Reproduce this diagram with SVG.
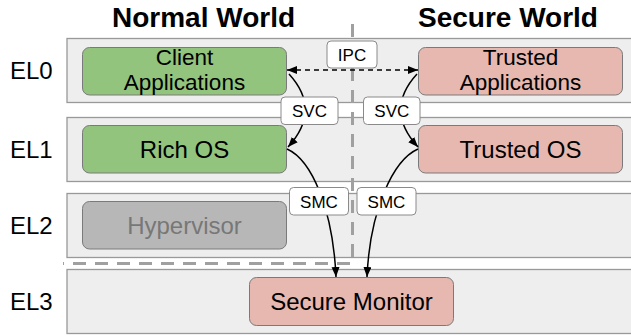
<svg xmlns="http://www.w3.org/2000/svg" width="631" height="336" viewBox="0 0 631 336">
<style>
text{font-family:"Liberation Sans",Arial,sans-serif;fill:#000}
.title{font-size:28px;font-weight:bold;text-anchor:middle}
.el{font-size:24px}
.band{fill:#eeeeee;stroke:#999999;stroke-width:1.3}
.box{stroke:#7a7a7a;stroke-width:1}
.green{fill:#93c47d}
.pink{fill:#e6b8af}
.grey{fill:#b7b7b7}
.bt{font-size:24px;text-anchor:middle}
.bt2{font-size:22.5px;text-anchor:middle}
.lab rect{fill:#ffffff;stroke:#8a8a8a;stroke-width:1}
.lab text{font-size:17px;text-anchor:middle}
.sep{fill:none;stroke:#a0a0a0;stroke-width:3;stroke-dasharray:13 9}
.conn{fill:none;stroke:#000;stroke-width:1.5}
</style>
<defs>
<marker id="ah" markerUnits="userSpaceOnUse" markerWidth="11" markerHeight="9" refX="10" refY="4" orient="auto-start-reverse">
<path d="M0,0 L10,4 L0,8 z" fill="#000"/>
</marker>
</defs>
<rect width="631" height="336" fill="#ffffff"/>
<g id="titles">
<text class="title" x="203.5" y="27">Normal World</text>
<text class="title" x="508" y="27">Secure World</text>
</g>
<g id="bands">
<rect class="band" x="67" y="38.5" width="600" height="64"/>
<rect class="band" x="67" y="117.5" width="600" height="64"/>
<rect class="band" x="67" y="193.5" width="600" height="64"/>
<rect class="band" x="67" y="269.5" width="600" height="64"/>
<text class="el" x="10" y="79">EL0</text>
<text class="el" x="10" y="158">EL1</text>
<text class="el" x="10" y="234">EL2</text>
<text class="el" x="10" y="310">EL3</text>
</g>
<g id="world-separator">
<path class="sep" d="M352.5,24 V263.5 H63"/>
</g>
<g id="client-applications">
<rect class="box green" x="82.5" y="47.5" width="204" height="47.5" rx="7"/>
<text class="bt2" x="184.5" y="65"><tspan x="184.5" y="65">Client</tspan><tspan x="184.5" y="89.5">Applications</tspan></text>
</g>
<g id="rich-os">
<rect class="box green" x="82.5" y="125.5" width="204" height="47.5" rx="7"/>
<text class="bt" x="184.5" y="157.5">Rich OS</text>
</g>
<g id="hypervisor">
<rect class="box grey" x="82.5" y="201.5" width="204" height="47.5" rx="7"/>
<text class="bt" x="184.5" y="234" style="fill:#777777">Hypervisor</text>
</g>
<g id="trusted-applications">
<rect class="box pink" x="418.5" y="47.5" width="204" height="47.5" rx="7"/>
<text class="bt2" x="520.5" y="65"><tspan x="520.5" y="65">Trusted</tspan><tspan x="520.5" y="89.5">Applications</tspan></text>
</g>
<g id="trusted-os">
<rect class="box pink" x="418.5" y="125.5" width="204" height="47.5" rx="7"/>
<text class="bt" x="520.5" y="157.5">Trusted OS</text>
</g>
<g id="secure-monitor">
<rect class="box pink" x="249.5" y="277.5" width="204" height="48" rx="7"/>
<text class="bt" x="351.5" y="310">Secure Monitor</text>
</g>
<g id="connectors">
<path class="conn" d="M287,70 H418" stroke-dasharray="5 4" marker-start="url(#ah)" marker-end="url(#ah)"/>
<path class="conn" d="M289,74 Q322,110 288,147" marker-end="url(#ah)"/>
<path class="conn" d="M417,74 Q384,110 418,147" marker-end="url(#ah)"/>
<path class="conn" d="M287,149 C312,160 333,210 336,277" marker-end="url(#ah)"/>
<path class="conn" d="M418,149 C393,160 370,210 367,277" marker-end="url(#ah)"/>
</g>
<g id="labels">
<g class="lab" id="lbl-ipc"><rect x="327" y="41" width="50" height="27" rx="4"/><text x="352" y="61">IPC</text></g>
<g class="lab" id="lbl-svc-n"><rect x="281" y="97" width="57" height="27.5" rx="4"/><text x="309.5" y="117">SVC</text></g>
<g class="lab" id="lbl-svc-s"><rect x="363.5" y="97" width="56.5" height="27.5" rx="4"/><text x="391.8" y="117">SVC</text></g>
<g class="lab" id="lbl-smc-n"><rect x="289.5" y="187.5" width="59" height="27.5" rx="4"/><text x="319" y="208">SMC</text></g>
<g class="lab" id="lbl-smc-s"><rect x="357" y="187.5" width="59" height="27.5" rx="4"/><text x="386.5" y="208">SMC</text></g>
</g>
</svg>
